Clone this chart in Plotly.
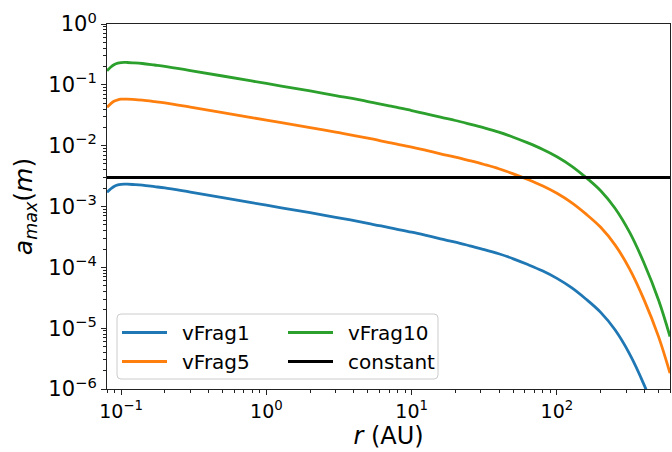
import plotly.graph_objects as go

# ---------------- data ----------------
r_au = [0.08, 0.085, 0.09, 0.095, 0.1, 0.105, 0.11, 0.12, 0.14, 0.17,
        0.2, 0.3, 0.5, 1, 2, 3, 5, 7, 10,
        12.6, 15.8, 20, 25.1, 31.6, 39.8, 50.1, 63.1, 79.4, 100,
        126, 158, 200, 251, 316, 398, 501, 600]

vfrag10 = [0.1707, 0.1964, 0.2159, 0.2267, 0.2319, 0.2337, 0.2329, 0.2303, 0.2241, 0.2118,
           0.2016, 0.1720, 0.1397, 0.1052, 0.0792, 0.0665, 0.0532, 0.0449, 0.03784,
           0.03339, 0.02936, 0.02592, 0.02262, 0.01958, 0.01670, 0.01377, 0.01110, 0.008745,
           0.006583, 0.004629, 0.003019, 0.001818, 0.000937, 0.000378, 0.0001168, 2.880e-5,
           7.29e-6]

vfrag5 = [0.0427, 0.0491, 0.0540, 0.0567, 0.0580, 0.0584, 0.0582, 0.0576, 0.0560, 0.0530,
          0.0504, 0.0430, 0.0349, 0.0263, 0.0198, 0.01664, 0.0133, 0.01123, 0.00946,
          0.00835, 0.00734, 0.00648, 0.00566, 0.00490, 0.00418, 0.00344, 0.002775, 0.002186,
          0.001646, 0.001157, 0.000755, 0.000455, 0.000234, 9.45e-5, 2.92e-5, 7.2e-6,
          1.82e-6]

vfrag1 = [0.00171, 0.00196, 0.00216, 0.00227, 0.00232, 0.00234, 0.00233, 0.0023, 0.00224, 0.00212,
          0.00202, 0.00172, 0.0014, 0.00105, 0.00079, 0.000665, 0.00053, 0.000449, 0.000378,
          0.000334, 0.000294, 0.000259, 0.000226, 0.000196, 0.000167, 0.000138, 0.000111, 8.75e-5,
          6.58e-5, 4.63e-5, 3.02e-5, 1.82e-5, 9.4e-6, 3.78e-6, 1.17e-6, 2.88e-7,
          7.3e-8]

const_r = [0.08, 600]
const_a = [3e-3, 3e-3]

series_names = ["vFrag1", "vFrag5", "vFrag10", "constant"]

x_tickvals = [0.1, 1, 10, 100]
x_ticktext = ["10<sup>\u22121</sup>", "10<sup>0</sup>", "10<sup>1</sup>", "10<sup>2</sup>"]
y_tickvals = [1e-6, 1e-5, 1e-4, 1e-3, 1e-2, 1e-1, 1]
y_ticktext = ["10<sup>\u22126</sup>", "10<sup>\u22125</sup>", "10<sup>\u22124</sup>",
              "10<sup>\u22123</sup>", "10<sup>\u22122</sup>", "10<sup>\u22121</sup>",
              "10<sup>0</sup>"]

# ---------------- figure ----------------
W, H = 672, 452
L, R, T, B = 107, 2, 24, 63
FONT = "DejaVu Sans"
GAP = "\u2002"  # small gap between legend line sample and its text

fig = go.Figure()
lw = 2.8
line_kw = dict(shape="spline", smoothing=1.0)
fig.add_trace(go.Scatter(x=r_au, y=vfrag1, mode="lines", name=GAP + series_names[0],
                         line=dict(color="#1f77b4", width=lw, **line_kw), legend="legend"))
fig.add_trace(go.Scatter(x=r_au, y=vfrag5, mode="lines", name=GAP + series_names[1],
                         line=dict(color="#ff7f0e", width=lw, **line_kw), legend="legend"))
fig.add_trace(go.Scatter(x=r_au, y=vfrag10, mode="lines", name=GAP + series_names[2],
                         line=dict(color="#2ca02c", width=lw, **line_kw), legend="legend2"))
fig.add_trace(go.Scatter(x=const_r, y=const_a, mode="lines", name=GAP + series_names[3],
                         line=dict(color="black", width=lw), legend="legend2"))

pw, ph = W - L - R, H - T - B
def px(x):
    return (x - L) / pw
def py(y):
    return (H - B - y) / ph

# legend frame (rounded rectangle)
bx0, bx1, by0, by1, rad = 117, 438, 314, 379, 4
rx, ry = rad / pw, rad / ph
X0, X1, Y0, Y1 = px(bx0), px(bx1), py(by1), py(by0)
path = (f"M{X0+rx},{Y1} L{X1-rx},{Y1} Q{X1},{Y1} {X1},{Y1-ry} "
        f"L{X1},{Y0+ry} Q{X1},{Y0} {X1-rx},{Y0} L{X0+rx},{Y0} "
        f"Q{X0},{Y0} {X0},{Y0+ry} L{X0},{Y1-ry} Q{X0},{Y1} {X0+rx},{Y1} Z")
fig.add_shape(type="path", path=path, xref="paper", yref="paper",
              line=dict(color="#cccccc", width=1), fillcolor="rgba(255,255,255,0.8)",
              layer="above")

x_minor = [k * 10.0 ** e for e in range(-2, 3) for k in range(2, 10)]
y_minor = [k * 10.0 ** e for e in range(-7, 0) for k in range(2, 10)]

axis_common = dict(type="log", showgrid=False, zeroline=False, showline=True,
                   linecolor="#222222", linewidth=1.1, mirror=True, ticks="outside",
                   ticklen=5, tickwidth=1.1, tickcolor="#222222", tickmode="array")

fig.update_xaxes(**axis_common, range=[-1.09691, 2.77815],
                 tickvals=x_tickvals, ticktext=x_ticktext,
                 tickfont=dict(family=FONT, size=19, color="black"),
                 minor=dict(tickvals=x_minor, ticks="outside", ticklen=3,
                            tickwidth=0.8, tickcolor="#222222"),
                 title=dict(text="<i>r</i> (AU)", font=dict(family=FONT, size=24, color="black"),
                            standoff=4))
fig.update_yaxes(**axis_common, range=[-6, 0],
                 tickvals=y_tickvals, ticktext=y_ticktext,
                 tickfont=dict(family=FONT, size=21, color="black"),
                 minor=dict(tickvals=y_minor, ticks="outside", ticklen=3,
                            tickwidth=0.8, tickcolor="#222222"),
                 title=dict(text="<i>a</i><sub><i>max</i></sub>(<i>m</i>)",
                            font=dict(family=FONT, size=25, color="black"), standoff=8))

leg_common = dict(bgcolor="rgba(0,0,0,0)", borderwidth=0, xanchor="left", yanchor="top",
                  font=dict(family=FONT, size=20, color="black"), itemwidth=45,
                  tracegroupgap=0)
fig.update_layout(
    width=W, height=H,
    margin=dict(l=L, r=R, t=T, b=B, autoexpand=False),
    paper_bgcolor="white", plot_bgcolor="white",
    font=dict(family=FONT, color="black"),
    legend=dict(**leg_common, x=px(117), y=py(313)),
    legend2=dict(**leg_common, x=px(283), y=py(313)),
)

fig.write_html("out.html", config={"displayModeBar": False},
               post_script="document.body.style.margin='0px';")
